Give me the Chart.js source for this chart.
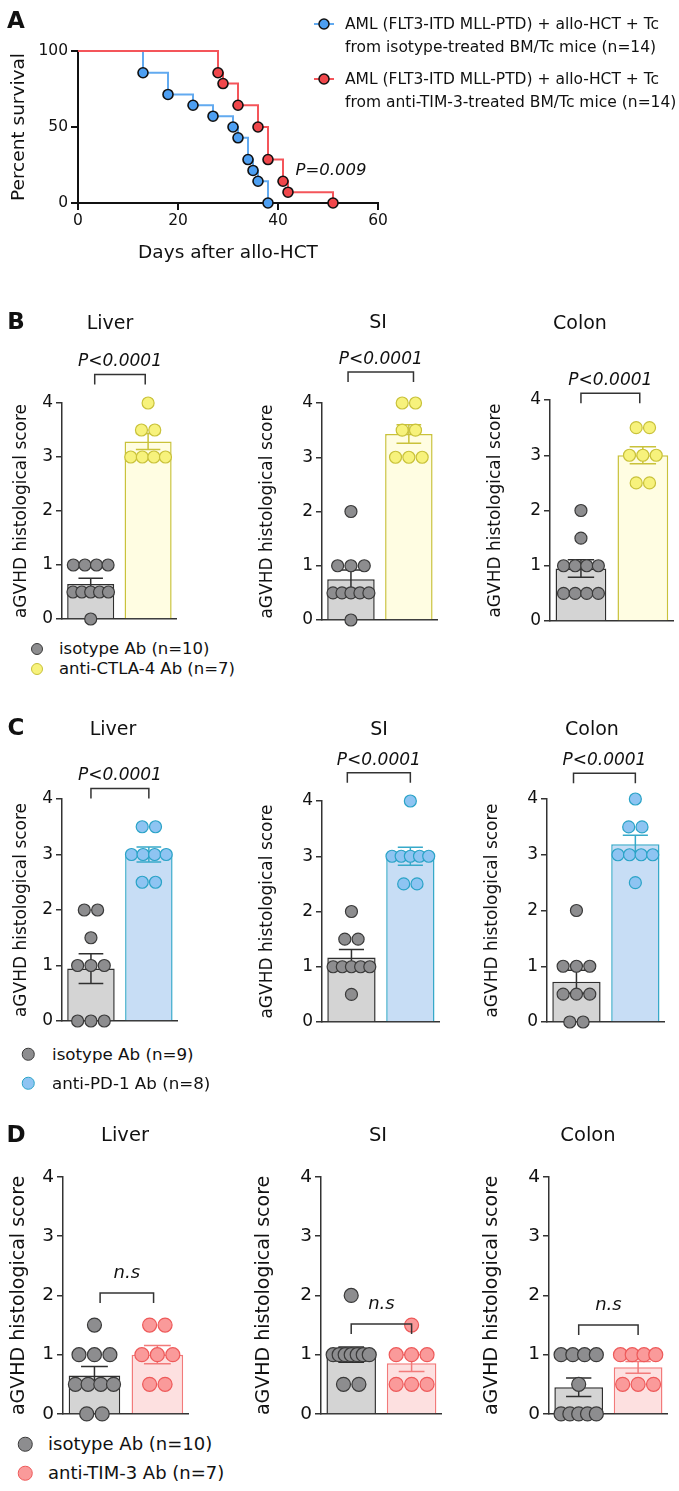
<!DOCTYPE html>
<html>
<head>
<meta charset="utf-8">
<script src="https://cdn.jsdelivr.net/npm/chart.js@4.4.1/dist/chart.umd.min.js"></script>
<style>
html, body { margin: 0; padding: 0; background: #fff; }
#fig { position: relative; width: 679px; height: 1491px; overflow: hidden; font-family: "DejaVu Sans", sans-serif; color: #111; }
#fig canvas { position: absolute; }
.t { position: absolute; white-space: nowrap; line-height: 1.2; }
.dot { position: absolute; border-radius: 50%; box-sizing: border-box; transform: translate(-50%, -50%); }
</style>
</head>
<body>
<div id="fig"></div>
<script>
// Panel A - survival after allo-HCT
const kmTicksX = [0, 20, 40, 60];
const kmTicksY = [0, 50, 100];
const isoDays = [0, 13, 18, 23, 27, 31, 32, 34, 35, 36, 38];
const isoSurv = [100, 85.7, 71.4, 64.3, 57.1, 50, 42.9, 28.6, 21.4, 14.3, 0];
const timDays = [0, 28, 29, 32, 36, 38, 41, 42, 51];
const timSurv = [100, 85.7, 78.6, 64.3, 50, 28.6, 14.3, 7.1, 0];

// Panels B-D - aGVHD histological scores
const scoreTicks = [0, 1, 2, 3, 4];

const bIsoLiver = [1, 1, 1, 1, 0.5, 0.5, 0.5, 0.5, 0.5, 0];
const bCtlaLiver = [4, 3.5, 3.5, 3, 3, 3, 3];
const bIsoSI = [2, 1, 1, 1, 0.5, 0.5, 0.5, 0.5, 0.5, 0];
const bCtlaSI = [4, 4, 3.5, 3.5, 3, 3, 3];
const bIsoColon = [2, 1.5, 1, 1, 1, 1, 0.5, 0.5, 0.5, 0.5];
const bCtlaColon = [3.5, 3.5, 3, 3, 3, 2.5, 2.5];

const cIsoLiver = [2, 2, 1.5, 1, 1, 1, 0, 0, 0];
const cPd1Liver = [3.5, 3.5, 3, 3, 3, 3, 2.5, 2.5];
const cIsoSI = [2, 1.5, 1.5, 1, 1, 1, 1, 1, 0.5];
const cPd1SI = [4, 3, 3, 3, 3, 3, 2.5, 2.5];
const cIsoColon = [2, 1, 1, 1, 0.5, 0.5, 0.5, 0, 0];
const cPd1Colon = [4, 3.5, 3.5, 3, 3, 3, 3, 2.5];

const dIsoLiver = [1.5, 1, 1, 1, 0.5, 0.5, 0.5, 0.5, 0, 0];
const dTimLiver = [1.5, 1.5, 1, 1, 1, 0.5, 0.5];
const dIsoSI = [2, 1, 1, 1, 1, 1, 1, 1, 0.5, 0.5];
const dTimSI = [1.5, 1, 1, 1, 0.5, 0.5, 0.5];
const dIsoColon = [1, 1, 1, 1, 0.5, 0, 0, 0, 0, 0];
const dTimColon = [1, 1, 1, 1, 0.5, 0.5, 0.5];

const FONT = '"DejaVu Sans", sans-serif';
const fig = document.getElementById('fig');

const GRAY = { fill: '#d4d4d4', line: '#2f2f2f', dot: '#8d8d8f', dotLine: '#3a3a3a' };
const YELLOW = { fill: '#fffde2', line: '#c9c23a', dot: '#f7f27c', dotLine: '#c9c23a' };
const BLUE = { fill: '#c7ddf5', line: '#37a9c9', dot: '#8ec4f2', dotLine: '#2aa3c7' };
const RED = { fill: '#fde0e0', line: '#f27a7a', dot: '#fa9a9a', dotLine: '#ee5a5a' };

// Helpers
function addText(str, x, y, size, o = {}) {
    const d = document.createElement('div');
    d.className = 't';
    d.textContent = str;
    d.style.left = x + 'px';
    d.style.top = y + 'px';
    d.style.fontSize = size + 'px';
    if (o.bold) d.style.fontWeight = 'bold';
    if (o.italic) d.style.fontStyle = 'italic';
    d.style.transform = o.left ? 'translate(0,-50%)' : 'translate(-50%,-50%)';
    fig.appendChild(d);
}

function addDot(x, y, size, fill, border) {
    const d = document.createElement('div');
    d.className = 'dot';
    d.style.left = x + 'px';
    d.style.top = y + 'px';
    d.style.width = size + 'px';
    d.style.height = size + 'px';
    d.style.background = fill;
    d.style.border = '1.3px solid ' + border;
    fig.appendChild(d);
}

function addKey(x, y, line, fill) {
    const ns = 'http://www.w3.org/2000/svg';
    const svg = document.createElementNS(ns, 'svg');
    svg.setAttribute('width', 24);
    svg.setAttribute('height', 14);
    svg.style.position = 'absolute';
    svg.style.left = (x - 12) + 'px';
    svg.style.top = (y - 7) + 'px';
    svg.innerHTML = `<line x1="2" y1="7" x2="22" y2="7" stroke="${line}" stroke-width="2"/>` +
        `<circle cx="12" cy="7" r="5" fill="${fill}" stroke="#111" stroke-width="1.5"/>`;
    fig.appendChild(svg);
}

function addCanvas(left, top, w, h) {
    const c = document.createElement('canvas');
    c.width = w;
    c.height = h;
    c.style.left = left + 'px';
    c.style.top = top + 'px';
    c.style.width = w + 'px';
    c.style.height = h + 'px';
    fig.appendChild(c);
    return c;
}

const mean = a => a.reduce((s, v) => s + v, 0) / a.length;
const sem = a => {
    const m = mean(a);
    return Math.sqrt(a.reduce((s, v) => s + (v - m) ** 2, 0) / (a.length - 1)) / Math.sqrt(a.length);
};

// spread equal scores side by side inside the bar
function swarm(vals, gi, unitPx, barW, r) {
    const counts = {};
    vals.forEach(v => counts[v] = (counts[v] || 0) + 1);
    const seen = {};
    return vals.map(v => {
        const n = counts[v];
        seen[v] = seen[v] === undefined ? 0 : seen[v] + 1;
        const sp = n < 2 ? 0 : n <= 3 ? 2.3 * r : Math.min(2 * r, (barW - 2 * r) / (n - 1));
        return { x: gi + (seen[v] - (n - 1) / 2) * sp / unitPx, y: v };
    });
}

// ---------- Panel A ----------
const kmCanvas = addCanvas(0, 0, 400, 265);
const kmRadius = ctx => ctx.dataIndex === 0 ? 0 : 5;
new Chart(kmCanvas, {
    type: 'line',
    data: {
        datasets: [{
            data: isoDays.map((d, i) => ({ x: d, y: isoSurv[i] })),
            stepped: 'before',
            borderColor: '#62aaf0',
            borderWidth: 2,
            pointRadius: kmRadius,
            pointBackgroundColor: '#4d9ff2',
            pointBorderColor: '#111',
            pointBorderWidth: 1.6,
            clip: false,
            order: 1
        }, {
            data: timDays.map((d, i) => ({ x: d, y: timSurv[i] })),
            stepped: 'before',
            borderColor: '#f4555a',
            borderWidth: 2,
            pointRadius: kmRadius,
            pointBackgroundColor: '#f0474b',
            pointBorderColor: '#111',
            pointBorderWidth: 1.6,
            clip: false,
            order: 0
        }]
    },
    options: {
        responsive: false,
        animation: false,
        layout: { padding: { top: 51, right: 22, left: 0, bottom: 0 } },
        plugins: { legend: { display: false }, tooltip: { enabled: false } },
        scales: {
            x: {
                type: 'linear', min: 0, max: 60,
                afterBuildTicks: s => { s.ticks = kmTicksX.map(v => ({ value: v })); },
                afterFit: s => { s.height = 62; },
                ticks: { font: { family: FONT, size: 15.5 }, color: '#111', padding: 2, maxRotation: 0 },
                grid: { drawOnChartArea: false, tickLength: 7, color: '#111', lineWidth: 2 },
                border: { color: '#111', width: 2 },
                title: { display: true, text: 'Days after allo-HCT', color: '#111',
                         font: { family: FONT, size: 18.5 }, padding: { top: 0, bottom: 1 } }
            },
            y: {
                min: 0, max: 100,
                afterBuildTicks: s => { s.ticks = kmTicksY.map(v => ({ value: v })); },
                afterFit: s => { s.width = 78; },
                ticks: { font: { family: FONT, size: 15.5 }, color: '#111', padding: 3 },
                grid: { drawOnChartArea: false, tickLength: 7, color: '#111', lineWidth: 2 },
                border: { color: '#111', width: 2 },
                title: { display: true, text: 'Percent survival', color: '#111',
                         font: { family: FONT, size: 18.5 }, padding: { top: 8, bottom: 0 } }
            }
        }
    }
});

addText('A', 16, 21, 23, { bold: true });
addText('P=0.009', 331, 170, 16.5, { italic: true });
addKey(324, 24, '#62aaf0', '#4d9ff2');
addText('AML (FLT3-ITD MLL-PTD) + allo-HCT + Tc', 345, 24, 15.5, { left: true });
addText('from isotype-treated BM/Tc mice (n=14)', 345, 47, 15.5, { left: true });
addKey(324, 79, '#f4555a', '#f0474b');
addText('AML (FLT3-ITD MLL-PTD) + allo-HCT + Tc', 345, 79, 15.5, { left: true });
addText('from anti-TIM-3-treated BM/Tc mice (n=14)', 345, 102, 15.5, { left: true });

// ---------- Panels B-D ----------
const PAD_TOP = 100, PAD_R = 3, X_H = 14, BAR_PCT = 0.82;

function barPanel(p) {
    const w = p.yw + (p.R - p.L) + PAD_R;
    const h = PAD_TOP + (p.B - p.T) + X_H;
    const c = addCanvas(p.L - p.yw, p.T - PAD_TOP, w, h);
    const unitPx = (p.R - p.L) / 2;
    const barW = unitPx * BAR_PCT;
    const groups = [p.iso, p.trt];
    const cols = [GRAY, p.col];
    const means = groups.map(mean);
    const sems = groups.map(sem);
    const pts = swarm(p.iso, 0, unitPx, barW, p.r).concat(swarm(p.trt, 1, unitPx, barW, p.r));
    const ptCol = p.iso.map(() => GRAY).concat(p.trt.map(() => p.col));

    const errBars = {
        id: 'errBars',
        afterDatasetDraw(chart, args) {
            if (args.index !== 0) return;
            const ctx = chart.ctx, y = chart.scales.y;
            args.meta.data.forEach((bar, i) => {
                const hi = y.getPixelForValue(means[i] + sems[i]);
                const lo = y.getPixelForValue(means[i] - sems[i]);
                const cap = bar.width * 0.26;
                ctx.save();
                ctx.strokeStyle = cols[i].line;
                ctx.lineWidth = 1.5;
                ctx.beginPath();
                ctx.moveTo(bar.x, lo); ctx.lineTo(bar.x, hi);
                ctx.moveTo(bar.x - cap, hi); ctx.lineTo(bar.x + cap, hi);
                ctx.moveTo(bar.x - cap, lo); ctx.lineTo(bar.x + cap, lo);
                ctx.stroke();
                ctx.restore();
            });
        }
    };

    const bracket = {
        id: 'bracket',
        afterDraw(chart) {
            const ctx = chart.ctx, x = chart.scales.x, y = chart.scales.y;
            const x0 = x.getPixelForValue(p.bx[0]), x1 = x.getPixelForValue(p.bx[1]);
            const top = y.getPixelForValue(p.bTop);
            ctx.save();
            ctx.strokeStyle = '#333';
            ctx.lineWidth = 1.5;
            ctx.beginPath();
            ctx.moveTo(x0, top + 10); ctx.lineTo(x0, top); ctx.lineTo(x1, top); ctx.lineTo(x1, top + 10);
            ctx.stroke();
            ctx.fillStyle = '#111';
            ctx.font = 'italic ' + p.ps + 'px ' + FONT;
            ctx.textAlign = 'center';
            ctx.textBaseline = 'alphabetic';
            ctx.fillText(p.p, (x0 + x1) / 2, top - p.pg);
            ctx.restore();
        }
    };

    new Chart(c, {
        type: 'bar',
        data: {
            datasets: [{
                type: 'bar',
                label: 'mean',
                data: means.map((m, i) => ({ x: i, y: m })),
                backgroundColor: cols.map(k => k.fill),
                borderColor: cols.map(k => k.line),
                borderWidth: 1.5,
                barPercentage: BAR_PCT,
                categoryPercentage: 1,
                order: 1
            }, {
                type: 'scatter',
                label: 'mice',
                data: pts,
                pointRadius: p.r,
                pointBackgroundColor: ptCol.map(k => k.dot),
                pointBorderColor: ptCol.map(k => k.dotLine),
                pointBorderWidth: 1.2,
                clip: false,
                order: 0
            }]
        },
        options: {
            responsive: false,
            animation: false,
            indexAxis: 'x',
            layout: { padding: { top: PAD_TOP, right: PAD_R, left: 0, bottom: 0 } },
            plugins: { legend: { display: false }, tooltip: { enabled: false } },
            scales: {
                x: {
                    type: 'linear', min: -0.5, max: 1.5, offset: false,
                    afterBuildTicks: s => { s.ticks = [{ value: 0 }, { value: 1 }]; },
                    afterFit: s => { s.height = X_H; },
                    ticks: { display: false },
                    grid: { display: false, offset: false },
                    border: { color: '#333', width: 1.5 }
                },
                y: {
                    min: 0, max: 4, beginAtZero: true,
                    afterBuildTicks: s => { s.ticks = scoreTicks.map(v => ({ value: v })); },
                    afterFit: s => { s.width = p.yw; },
                    ticks: { font: { family: FONT, size: p.tick }, color: '#111', padding: 3 },
                    grid: { drawOnChartArea: false, tickLength: 6, color: '#333', lineWidth: 1.5 },
                    border: { color: '#333', width: 1.5 },
                    title: { display: true, text: 'aGVHD histological score', color: '#111',
                             font: { family: FONT, size: p.yt }, padding: { top: p.tp, bottom: 0 } }
                }
            }
        },
        plugins: [errBars, bracket]
    });
}

const panelsB = [
    { L: 62, R: 181, T: 403, B: 619, yw: 62, iso: bIsoLiver, trt: bCtlaLiver, col: YELLOW, p: 'P<0.0001', bTop: 4.53, bx: [0.07, 0.95] },
    { L: 322, R: 442, T: 403, B: 620, yw: 76, iso: bIsoSI, trt: bCtlaSI, col: YELLOW, p: 'P<0.0001', bTop: 4.57, bx: [-0.05, 1.08] },
    { L: 550, R: 678, T: 400, B: 621, yw: 76, iso: bIsoColon, trt: bCtlaColon, col: YELLOW, p: 'P<0.0001', bTop: 4.12, bx: [0, 0.95] }
];
const panelsC = [
    { L: 62, R: 182, T: 799, B: 1021, yw: 62, iso: cIsoLiver, trt: cPd1Liver, col: BLUE, p: 'P<0.0001', bTop: 4.19, bx: [0, 1] },
    { L: 322, R: 444, T: 801, B: 1022, yw: 76, iso: cIsoSI, trt: cPd1SI, col: BLUE, p: 'P<0.0001', bTop: 4.51, bx: [-0.07, 1] },
    { L: 547, R: 669, T: 799, B: 1022, yw: 76, iso: cIsoColon, trt: cPd1Colon, col: BLUE, p: 'P<0.0001', bTop: 4.46, bx: [-0.05, 1] }
];
const panelsD = [
    { L: 63, R: 194, T: 1177, B: 1414, yw: 63, iso: dIsoLiver, trt: dTimLiver, col: RED, p: 'n.s', bTop: 2.04, bx: [0.09, 0.94] },
    { L: 321, R: 447, T: 1177, B: 1414, yw: 76, iso: dIsoSI, trt: dTimSI, col: RED, p: 'n.s', bTop: 1.52, bx: [0, 1] },
    { L: 549, R: 673, T: 1177, B: 1414, yw: 76, iso: dIsoColon, trt: dTimColon, col: RED, p: 'n.s', bTop: 1.5, bx: [0, 1] }
];

panelsB.concat(panelsC).forEach(p => barPanel(Object.assign({ r: 6, tick: 17, yt: 17, tp: 11, ps: 17, pg: 8 }, p)));
panelsD.forEach(p => barPanel(Object.assign({ r: 7, tick: 18.5, yt: 19, tp: 7.6, ps: 18, pg: 15 }, p)));

// titles, letters and legends
addText('B', 16, 322, 23, { bold: true });
addText('Liver', 110, 322, 19);
addText('SI', 378, 321, 19);
addText('Colon', 580, 322, 19);
addDot(37, 649, 12, GRAY.dot, GRAY.dotLine);
addText('isotype Ab (n=10)', 59, 649, 16.5, { left: true });
addDot(37, 669, 12, YELLOW.dot, YELLOW.dotLine);
addText('anti-CTLA-4 Ab (n=7)', 59, 669, 16.5, { left: true });

addText('C', 16, 728, 23, { bold: true });
addText('Liver', 113, 728, 19);
addText('SI', 379, 728, 19);
addText('Colon', 592, 728, 19);
addDot(28, 1054, 12.5, GRAY.dot, GRAY.dotLine);
addText('isotype Ab (n=9)', 52, 1054, 16.7, { left: true });
addDot(28, 1083, 12.5, BLUE.dot, BLUE.dotLine);
addText('anti-PD-1 Ab (n=8)', 52, 1083, 16.7, { left: true });

addText('D', 16, 1135, 23, { bold: true });
addText('Liver', 125, 1135, 19.5);
addText('SI', 378, 1135, 19.5);
addText('Colon', 588, 1135, 19.5);
addDot(25, 1444, 14.5, GRAY.dot, GRAY.dotLine);
addText('isotype Ab (n=10)', 48, 1444, 18, { left: true });
addDot(25, 1473, 14.5, RED.dot, RED.dotLine);
addText('anti-TIM-3 Ab (n=7)', 48, 1473, 18, { left: true });
</script>
</body>
</html>
